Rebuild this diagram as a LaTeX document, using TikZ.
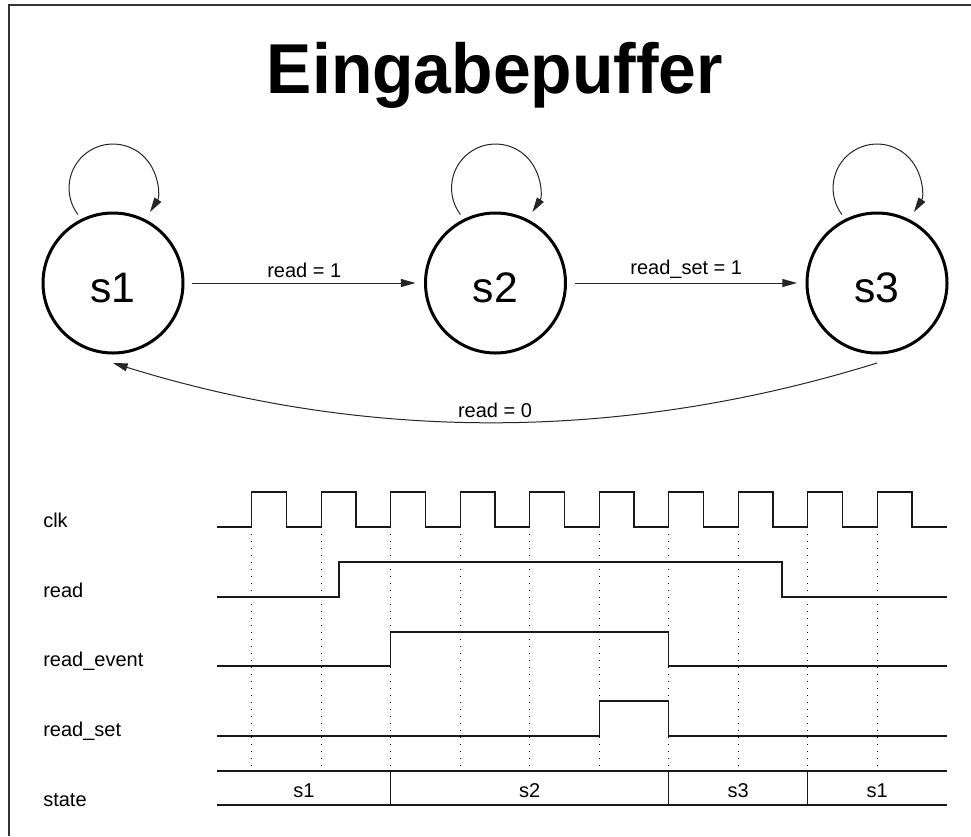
\documentclass[tikz,border=0pt]{standalone}
\usepackage{fontspec}
\setmainfont{Liberation Sans}
\usetikzlibrary{arrows.meta,calc}

\begin{document}
\begin{tikzpicture}[x=0.75pt,y=-0.75pt,
  fsm/.style={circle,draw,line width=2.25pt,minimum size=105pt,inner sep=0pt,outer sep=0pt,
    text height=29pt,text depth=0pt,font=\fontsize{32}{38}\selectfont},
  trans/.style={draw=black!85,line width=0.75pt,-{Triangle[length=11pt,width=6pt]}},
  elbl/.style={font=\fontsize{15}{18}\selectfont},
  sig/.style={font=\fontsize{15}{18}\selectfont,inner sep=0pt,anchor=base west},
  val/.style={font=\fontsize{15}{18}\selectfont,inner sep=0pt,anchor=base},
  wave/.style={line width=0.9pt,black!90},
  tick/.style={line width=0.8pt,black,dash pattern=on 0.9pt off 4.35pt},
  frame/.style={line width=1.3pt,black!80}
]
\useasboundingbox (0,0) rectangle (971,836);

% outer frame (left and top edges)
\draw[frame] (9,836) -- (9,5) -- (971,5);

% title
\node[font=\fontsize{53}{60}\selectfont\bfseries,anchor=base,inner sep=0pt] (title) at (495,93)
  {\scalebox{0.96}[1]{Eingabepuffer}};

% state machine
\node[fsm] (s1) at (113,283) {s1};
\node[fsm] (s2) at (495.5,283) {s2};
\node[fsm] (s3) at (877,283) {s3};

\draw[trans] ($(s1.center)+(-35.1,-68.5)$) arc[start angle=217,end angle=-33,radius=33pt];
\draw[trans] ($(s2.center)+(-35.1,-68.5)$) arc[start angle=217,end angle=-33,radius=33pt];
\draw[trans] ($(s3.center)+(-35.1,-68.5)$) arc[start angle=217,end angle=-33,radius=33pt];

\draw[trans,shorten <=6.75pt,shorten >=7.5pt] (s1) -- (s2) node[midway,above,elbl] {read = 1};
\draw[trans,shorten <=6.75pt,shorten >=7.5pt] (s2) -- (s3) node[midway,above,elbl] {read\_set = 1};
\draw[trans] ([yshift=-7.5pt]s3.south) .. controls +(-254,79) and +(254,79) .. ([yshift=-7.5pt]s1.south)
  node[midway,above,elbl] {read = 0};

% timing diagram: signal names
\node[sig] (lclk) at (43,527) {clk};
\node[sig] (lread) at (43,597) {read};
\node[sig] (levent) at (43,666) {read\_event};
\node[sig] (lset) at (43,736) {read\_set};
\node[sig] (lstate) at (43,806) {state};

% rising clock edge markers
\foreach \k in {0,...,9}
  \draw[tick] ({251.75+69.5*\k},527) -- ({251.75+69.5*\k},771);

% clock
\draw[wave] (217,527)
  \foreach \k in {0,...,9} {
    -- ({251.75+69.5*\k},527) -- ({251.75+69.5*\k},492)
    -- ({286.5+69.5*\k},492) -- ({286.5+69.5*\k},527) }
  -- (946.75,527);

% read
\draw[wave] (217,597) -- (339,597) -- (339,562) -- (782,562) -- (782,597) -- (946.75,597);

% read_event
\draw[wave] (217,666) -- (390.75,666) -- (390.75,632) -- (668.75,632) -- (668.75,666) -- (946.75,666);

% read_set
\draw[wave] (217,736) -- (599.25,736) -- (599.25,701) -- (668.75,701) -- (668.75,736) -- (946.75,736);

% state bus
\draw[wave] (217,771) -- (946.75,771);
\draw[wave] (217,805) -- (946.75,805);
\foreach \x in {390.75,668.75,807.75}
  \draw[wave] (\x,771) -- (\x,805);

\node[val] (v1) at (304,797) {s1};
\node[val] (v2) at (529.75,797) {s2};
\node[val] (v3) at (738.25,797) {s3};
\node[val] (v4) at (877.25,797) {s1};
\end{tikzpicture}
\end{document}
